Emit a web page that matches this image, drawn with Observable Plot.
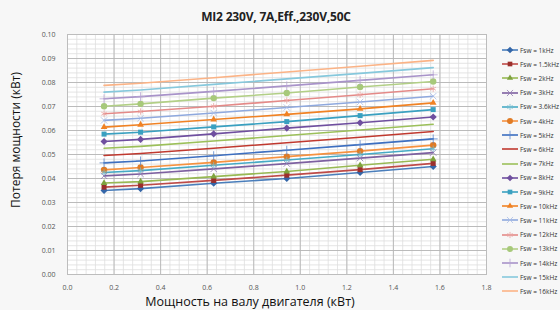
<!DOCTYPE html>
<html><head><meta charset="utf-8">
<script src="https://cdn.jsdelivr.net/npm/d3@7"></script>
<script src="https://cdn.jsdelivr.net/npm/@observablehq/plot@0.6"></script>
<style>
html,body{margin:0;padding:0;background:#f7f7f7;}
#wrap{position:relative;width:560px;height:310px;overflow:hidden;font-family:"Open Sans","Liberation Sans",sans-serif;}
#title{position:absolute;left:0;width:552px;top:8px;text-align:center;font-size:12px;font-weight:bold;color:#222;letter-spacing:-0.2px;}
#ytitle{position:absolute;left:15px;top:140px;transform:translate(-50%,-50%) rotate(-90deg);white-space:nowrap;font-size:12px;color:#111;}
#xtitle{position:absolute;left:250px;top:301px;transform:translate(-50%,-50%);white-space:nowrap;font-size:12.5px;color:#111;}
#legend{position:absolute;left:500px;top:0;}
.li{position:absolute;left:0;height:10px;display:flex;align-items:center;font-size:6.5px;color:#333;white-space:nowrap;}
#chart{position:absolute;left:0;top:0;}
</style></head>
<body><div id="wrap"><div id="chart"></div><div id="title"></div><div id="ytitle"></div><div id="xtitle"></div><div id="legend"></div></div>
<script>
const titleText = "MI2 230V, 7A,Eff.,230V,50C";
const xTitle = "Мощность на валу двигателя (кВт)";
const yTitle = "Потеря мощности (кВт)";
const xValues = [0.157, 0.314, 0.628, 0.942, 1.257, 1.571];
const seriesNames = ["Fsw = 1kHz","Fsw = 1.5kHz","Fsw = 2kHz","Fsw = 3kHz","Fsw = 3.6kHz","Fsw = 4kHz","Fsw = 5kHz","Fsw = 6kHz","Fsw = 7kHz","Fsw = 8kHz","Fsw = 9kHz","Fsw = 10kHz","Fsw = 11kHz","Fsw = 12kHz","Fsw = 13kHz","Fsw = 14kHz","Fsw = 15kHz","Fsw = 16kHz"];
const f1k   = [0.0350,0.0358,0.0380,0.0400,0.0425,0.0450];
const f1_5k = [0.0364,0.0372,0.0392,0.0414,0.0437,0.0463];
const f2k   = [0.0381,0.0387,0.0408,0.0429,0.0455,0.0480];
const f3k   = [0.0411,0.0419,0.0440,0.0462,0.0485,0.0508];
const f3_6k = [0.0425,0.0433,0.0455,0.0477,0.0500,0.0524];
const f4k   = [0.0436,0.0446,0.0467,0.0491,0.0514,0.0539];
const f5k   = [0.0465,0.0473,0.0495,0.0518,0.0541,0.0565];
const f6k   = [0.0496,0.0504,0.0526,0.0549,0.0572,0.0596];
const f7k   = [0.0526,0.0534,0.0556,0.0579,0.0602,0.0626];
const f8k   = [0.0554,0.0563,0.0586,0.0610,0.0632,0.0656];
const f9k   = [0.0585,0.0593,0.0615,0.0637,0.0662,0.0687];
const f10k  = [0.0614,0.0624,0.0646,0.0667,0.0690,0.0715];
const f11k  = [0.0642,0.0651,0.0673,0.0696,0.0719,0.0743];
const f12k  = [0.0670,0.0679,0.0701,0.0725,0.0749,0.0774];
const f13k  = [0.0701,0.0711,0.0735,0.0756,0.0781,0.0804];
const f14k  = [0.0732,0.0741,0.0763,0.0786,0.0809,0.0832];
const f15k  = [0.0760,0.0769,0.0792,0.0815,0.0838,0.0862];
const f16k  = [0.0788,0.0797,0.0820,0.0844,0.0868,0.0892];
const seriesValues = [f1k,f1_5k,f2k,f3k,f3_6k,f4k,f5k,f6k,f7k,f8k,f9k,f10k,f11k,f12k,f13k,f14k,f15k,f16k];
const xTicks = [0,0.2,0.4,0.6,0.8,1.0,1.2,1.4,1.6,1.8];
const yTicks = [0,0.01,0.02,0.03,0.04,0.05,0.06,0.07,0.08,0.09,0.10];

const colors = ["#4a7ebb","#be4b48","#98b954","#7d60a0","#46aac5","#f69240","#3d6fc0","#c0392f","#9cc05a","#6f4f9f","#3aa0c0","#f08224","#8fa9de","#e48a88","#b2cf86","#a893c9","#86c8dc","#fbb386"];
const symbols = ["diamond2","square2","triangle2","times","asterisk","circle","plus",null,null,"diamond2","square2","triangle2","times","asterisk","circle","plus",null,null];
const markFill = ["#3466a8","#9b2f2c","#7ea23e","#8f78b0","#74bcd0","#e07b25","#5a86cc",null,null,"#6f4f9f","#3aa0c0","#f08224","#a9bde6","#eaa3a1","#a7c97a","#b7a6d3",null,null];

const rows = [];
seriesNames.forEach((s,i)=>xValues.forEach((x,j)=>rows.push({s, i, x, y: seriesValues[i][j]})));
const dotRows = rows.filter(d=>symbols[d.i]);
const fillSyms = new Set(["diamond2","square2","triangle2","circle"]);

const plot = Plot.plot({
  width: 560, height: 310,
  marginLeft: 67, marginRight: 74, marginTop: 34, marginBottom: 36,
  style: {background: "transparent", fontFamily: "'Open Sans','Liberation Sans',sans-serif", fontSize: "7px", color: "#555"},
  x: {domain: [0,1.8], ticks: xTicks, tickFormat: d3.format(".1f"), label: null},
  y: {domain: [0,0.10], ticks: yTicks, tickFormat: d3.format(".2f"), label: null},
  color: {domain: seriesNames, range: colors},
  marks: [
    Plot.frame({fill: "#ffffff", stroke: null}),
    Plot.gridX(d3.range(0,1.8001,0.04), {stroke: "#dedede", strokeOpacity: 1, strokeWidth: 0.8}),
    Plot.gridY(d3.range(0,0.10001,0.002), {stroke: "#dedede", strokeOpacity: 1, strokeWidth: 0.8}),
    Plot.gridX(xTicks, {stroke: "#b5b5b5", strokeOpacity: 1, strokeWidth: 0.9}),
    Plot.gridY(yTicks, {stroke: "#b5b5b5", strokeOpacity: 1, strokeWidth: 0.9}),
    Plot.frame({stroke: "#bdbdbd"}),
    Plot.axisX({ticks: xTicks, tickSize: 0, tickPadding: 11, tickFormat: d3.format(".1f"), fill: "#555"}),
    Plot.axisY({ticks: yTicks, tickSize: 0, tickPadding: 12, tickFormat: d3.format(".2f"), fill: "#555"}),
    Plot.line(rows, {x: "x", y: "y", z: "s", stroke: "s", strokeWidth: 1.6}),
    Plot.dot(dotRows.filter(d=>fillSyms.has(symbols[d.i])), {x: "x", y: "y", symbol: d=>symbols[d.i], fill: d=>markFill[d.i], r: 3.2, stroke: null}),
    Plot.dot(dotRows.filter(d=>!fillSyms.has(symbols[d.i])), {x: "x", y: "y", symbol: d=>symbols[d.i], stroke: d=>markFill[d.i], r: 3, strokeWidth: 0.8})
  ]
});
document.getElementById("chart").appendChild(plot);
document.getElementById("title").textContent = titleText;
document.getElementById("xtitle").textContent = xTitle;
document.getElementById("ytitle").textContent = yTitle;

const symMap = {diamond2: d3.symbolDiamond2, square2: d3.symbolSquare2, triangle2: d3.symbolTriangle2, times: d3.symbolTimes, asterisk: d3.symbolAsterisk, circle: d3.symbolCircle, plus: d3.symbolPlus};
const leg = document.getElementById("legend");
seriesNames.forEach((s,i)=>{
  const div = document.createElement("div");
  div.className = "li";
  div.style.top = (50 + i*14.2 - 5) + "px";
  const svg = d3.create("svg").attr("width",19).attr("height",10);
  svg.append("line").attr("x1",2).attr("x2",18).attr("y1",5).attr("y2",5).attr("stroke",colors[i]).attr("stroke-width",1.6);
  if (symbols[i]) {
    const filled = fillSyms.has(symbols[i]);
    svg.append("path").attr("transform","translate(10,5)")
      .attr("d", d3.symbol(symMap[symbols[i]], filled ? 28 : 26)())
      .attr("fill", filled ? markFill[i] : "none")
      .attr("stroke", filled ? "none" : markFill[i]).attr("stroke-width",0.8);
  }
  div.appendChild(svg.node());
  const t = document.createElement("span");
  t.textContent = s; t.style.marginLeft = "1px";
  div.appendChild(t);
  leg.appendChild(div);
});
</script></body></html>
